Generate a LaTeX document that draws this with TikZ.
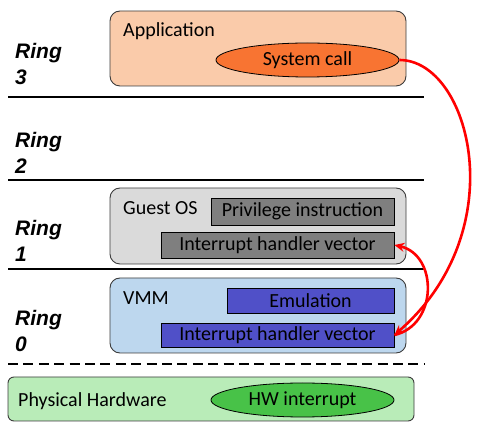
\documentclass[tikz,border=0pt]{standalone}
\usepackage{fontspec}
\setmainfont{Carlito}
\newfontfamily\ringfont{Liberation Sans}
\usetikzlibrary{shapes.geometric,arrows.meta}
\definecolor{appfill}{RGB}{250,203,170}
\definecolor{sysfill}{RGB}{248,116,50}
\definecolor{guestfill}{RGB}{218,218,218}
\definecolor{grayrect}{RGB}{127,127,127}
\definecolor{vmmfill}{RGB}{189,215,238}
\definecolor{bluerect}{RGB}{80,80,200}
\definecolor{hwfill}{RGB}{185,236,184}
\definecolor{hwell}{RGB}{72,194,72}
\definecolor{boxline}{RGB}{60,60,60}
\tikzset{
  layerbox/.style={draw=boxline, line width=0.9pt, rounded corners=10pt, inner sep=0pt},
  innerrect/.style={draw=black, line width=0.8pt, inner sep=0pt, font=\fontsize{20}{24}\selectfont},
  ell/.style={ellipse, draw=black, line width=0.8pt, inner sep=0pt, font=\fontsize{20}{24}\selectfont},
  boxlabel/.style={anchor=base west, inner sep=0pt, font=\fontsize{20}{24}\selectfont},
  ringlabel/.style={anchor=north west, inner sep=0pt, align=left, font=\ringfont\bfseries\itshape\fontsize{21}{26.5}\selectfont},
  ringline/.style={line width=2.6pt, black},
  redarrow/.style={draw=red, line width=2.6pt, -{Stealth[length=10pt,width=9pt]}}
}
\begin{document}
\begin{tikzpicture}[x=1pt,y=-1pt]
\useasboundingbox (0,0) rectangle (480,430);
% ring labels
\node[ringlabel] (r3) at (15,43) {Ring\\3};
\node[ringlabel] (r2) at (15,132) {Ring\\2};
\node[ringlabel] (r1) at (15,220) {Ring\\1};
\node[ringlabel] (r0) at (15,310) {Ring\\0};
% separator lines
\coordinate (l1a) at (8,97);  \coordinate (l1b) at (424,97);
\coordinate (l2a) at (8,180); \coordinate (l2b) at (424,180);
\coordinate (l3a) at (8,269); \coordinate (l3b) at (424,269);
\coordinate (l4a) at (8,364); \coordinate (l4b) at (424,364);
\draw[ringline] (l1a) -- (l1b);
\draw[ringline] (l2a) -- (l2b);
\draw[ringline] (l3a) -- (l3b);
\draw[ringline, dash pattern=on 10pt off 5.4pt] (l4a) -- (l4b);
% application
\node[layerbox, fill=appfill, minimum width=296pt, minimum height=75pt] (app) at (258,48.5) {};
\node[boxlabel] (applbl) at (123,37) {Application};
\node[ell, fill=sysfill, minimum width=183pt, minimum height=34pt] (sys) at (307.5,60) {System call};
% guest OS
\node[layerbox, fill=guestfill, minimum width=296pt, minimum height=76pt] (guest) at (258,226) {};
\node[boxlabel] (guestlbl) at (123,215) {Guest OS};
\node[innerrect, fill=grayrect, minimum width=183pt, minimum height=27pt] (priv) at (302.5,211.5) {Privilege instruction};
\node[innerrect, fill=grayrect, minimum width=233pt, minimum height=26pt] (gihv) at (277.5,245) {Interrupt handler vector};
% VMM
\node[layerbox, fill=vmmfill, minimum width=296pt, minimum height=75pt] (vmm) at (258,315.5) {};
\node[boxlabel] (vmmlbl) at (123,305) {VMM};
\node[innerrect, fill=bluerect, minimum width=167pt, minimum height=25pt] (emu) at (310.5,300.5) {Emulation};
\node[innerrect, fill=bluerect, minimum width=233pt, minimum height=24pt] (vihv) at (277.5,335) {Interrupt handler vector};
% hardware
\node[layerbox, rounded corners=6pt, fill=hwfill, minimum width=406pt, minimum height=44pt] (hw) at (211,399) {};
\node[boxlabel] (hwlbl) at (18,407) {Physical Hardware};
\node[ell, fill=hwell, minimum width=183pt, minimum height=34pt] (hwint) at (302.5,400) {HW interrupt};
% arrows
\draw[redarrow] (sys.east) .. controls (470,60) and (515,230) .. (vihv.east);
\draw[redarrow] (vihv.east) .. controls (438,325) and (438,255) .. (gihv.east);
\end{tikzpicture}
\end{document}
